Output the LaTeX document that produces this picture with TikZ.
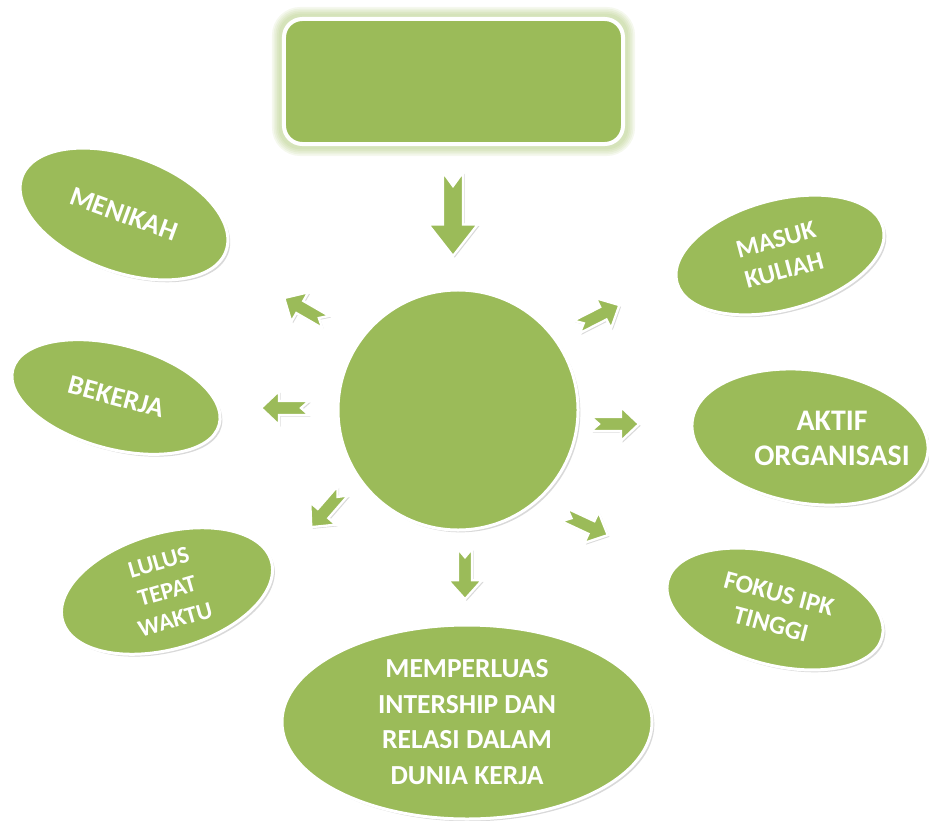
\documentclass[tikz,border=0pt]{standalone}
\usepackage{fontspec}
\setmainfont{Carlito}[BoldFont={Carlito Bold}]
\usetikzlibrary{shapes.geometric,shadows,backgrounds}
\definecolor{hijau}{HTML}{9BBB59}
\tikzset{every picture/.style={line width=0.75pt}}
\tikzset{
  bentuk/.style={fill=hijau, draw=white, line width=0.09cm},
  bayangan/.style={drop shadow={opacity=0.3, shadow xshift=0.07cm, shadow yshift=-0.07cm}},
  elips/.style={bentuk, bayangan, ellipse, inner sep=0pt, text=white, align=center,
    font=\bfseries\fontsize{23.5}{30.5}\selectfont},
  teks/.style={text=white, align=center, inner sep=0pt, font=\bfseries\fontsize{25.5}{30}\selectfont},
  panah/.style={fill=hijau, draw=white, line width=0.07cm, line join=miter,
    drop shadow={opacity=0.3, shadow xshift=0.05cm, shadow yshift=-0.05cm}},
}
\newcommand{\panahblok}[4]{%
  \begin{scope}[shift={#1}, rotate=#2, xscale=#3, yscale=#4]
    \filldraw[panah] (-24,7) -- (6,7) -- (6,17) -- (24,0) -- (6,-17) -- (6,-7) -- (-24,-7) -- (-16,0) -- cycle;
  \end{scope}}

\begin{document}
\begin{tikzpicture}[x=0.03cm, y=-0.03cm]
    \useasboundingbox (0,0) rectangle (929,821);

    \node[bentuk, rectangle, line width=0.12cm, rounded corners=0.55cm, minimum width=10.17cm, minimum height=3.75cm] (judul) at (453.5,81.5) {};
    \begin{scope}[on background layer]
        \foreach \w in {0.6,0.5,0.4,0.3,0.2}
            \draw[hijau, opacity=0.1, line width=\w cm, rounded corners=0.55cm] (judul.south west) rectangle (judul.north east);
    \end{scope}

    \node[bentuk, bayangan, circle, minimum size=7.2cm] (pusat) at (458,410) {};

    \node[elips, minimum width=6.51cm, minimum height=3.48cm, rotate=-20] (menikah) at (124,214) {MENIKAH};
    \node[elips, minimum width=6.4cm, minimum height=3.3cm, rotate=15,
        font=\bfseries\fontsize{22}{27}\selectfont] (kuliah) at (780,255) {MASUK\\KULIAH};
    \node[elips, minimum width=6.41cm, minimum height=3.12cm, rotate=-15] (bekerja) at (116,397) {BEKERJA};
    \node[elips, minimum width=7.13cm, minimum height=4cm, rotate=-8] (aktif) at (810,437) {};
    \node[teks] (aktif-teks) at (832,438) {AKTIF\\ORGANISASI};
    \node[elips, minimum width=6.51cm, minimum height=3.48cm, rotate=16,
        font=\bfseries\fontsize{20.5}{25.5}\selectfont] (lulus) at (167,591) {LULUS\\TEPAT\\WAKTU};
    \node[elips, minimum width=6.65cm, minimum height=3.34cm, rotate=-15,
        font=\bfseries\fontsize{22}{27}\selectfont] (fokus) at (775,609) {FOKUS IPK\\TINGGI};
    \node[elips, minimum width=11.1cm, minimum height=5.82cm] (relasi) at (467,722) {MEMPERLUAS\\INTERSHIP DAN\\RELASI DALAM\\DUNIA KERJA};

    \panahblok{(453,214)}{-90}{1.75}{1.45}
    \panahblok{(305,310)}{150}{1}{1}
    \panahblok{(285,408)}{180}{1}{1}
    \panahblok{(327,509)}{229}{1}{1}
    \panahblok{(465,574)}{-90}{1.05}{1}
    \panahblok{(598,316)}{27}{1}{1}
    \panahblok{(615,424)}{0}{1}{1}
    \panahblok{(586,525)}{-25}{1}{1}
\end{tikzpicture}
\end{document}
